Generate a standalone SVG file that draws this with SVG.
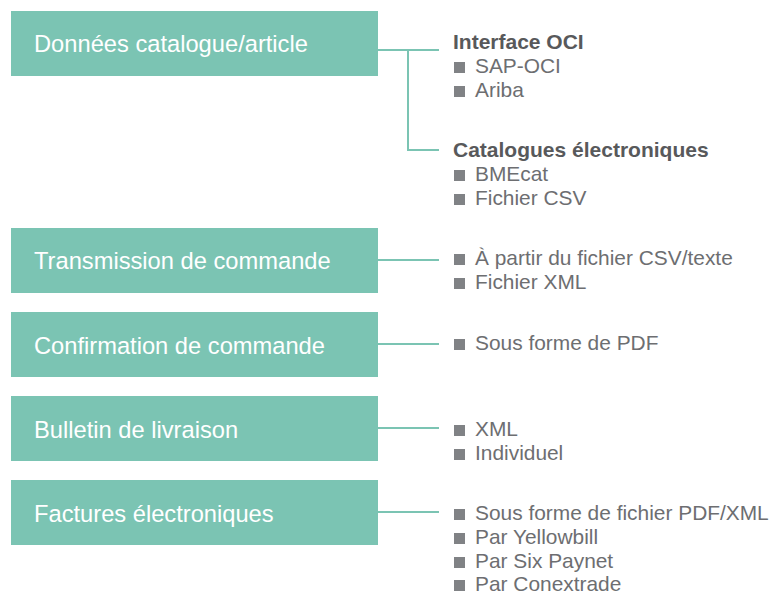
<svg xmlns="http://www.w3.org/2000/svg" width="771" height="593" viewBox="0 0 771 593">
<style>
.box{fill:#7bc4b3}
.bt{font-family:"Liberation Sans",Arial,sans-serif;font-size:23.7px;fill:#ffffff}
.it{font-family:"Liberation Sans",Arial,sans-serif;font-size:20.9px;fill:#6d6e71}
.hd{font-family:"Liberation Sans",Arial,sans-serif;font-size:21px;font-weight:bold;fill:#58595b}
.bl{fill:#808285}
.cn{stroke:#7bc4b3;stroke-width:2;fill:none}
</style>
<rect width="771" height="593" fill="#ffffff"/>
<g id="connectors">
<path class="cn" d="M378 50H439M408 50V150H439"/>
<path class="cn" d="M378 260H439"/>
<path class="cn" d="M378 344H439"/>
<path class="cn" d="M378 428H439"/>
<path class="cn" d="M378 512H439"/>
</g>
<g id="n1"><rect class="box" x="11" y="11" width="367" height="65"/><text class="bt" x="34" y="52">Données catalogue/article</text></g>
<g id="n2"><rect class="box" x="11" y="228" width="367" height="65"/><text class="bt" x="34" y="269">Transmission de commande</text></g>
<g id="n3"><rect class="box" x="11" y="312" width="367" height="65"/><text class="bt" x="34" y="354">Confirmation de commande</text></g>
<g id="n4"><rect class="box" x="11" y="396" width="367" height="65"/><text class="bt" x="34" y="438">Bulletin de livraison</text></g>
<g id="n5"><rect class="box" x="11" y="480" width="367" height="65"/><text class="bt" x="34" y="522">Factures électroniques</text></g>
<g id="l1">
<text class="hd" x="453" y="49">Interface OCI</text>
<rect class="bl" x="454" y="62" width="11" height="11"/><text class="it" x="475" y="73">SAP-OCI</text>
<rect class="bl" x="454" y="86" width="11" height="11"/><text class="it" x="475" y="97">Ariba</text>
<text class="hd" x="453" y="157">Catalogues électroniques</text>
<rect class="bl" x="454" y="170" width="11" height="11"/><text class="it" x="475" y="181">BMEcat</text>
<rect class="bl" x="454" y="194" width="11" height="11"/><text class="it" x="475" y="205">Fichier CSV</text>
</g>
<g id="l2">
<rect class="bl" x="454" y="254" width="11" height="11"/><text class="it" x="475" y="265">À partir du fichier CSV/texte</text>
<rect class="bl" x="454" y="278" width="11" height="11"/><text class="it" x="475" y="289">Fichier XML</text>
</g>
<g id="l3">
<rect class="bl" x="454" y="339" width="11" height="11"/><text class="it" x="475" y="350">Sous forme de PDF</text>
</g>
<g id="l4">
<rect class="bl" x="454" y="425" width="11" height="11"/><text class="it" x="475" y="436">XML</text>
<rect class="bl" x="454" y="449" width="11" height="11"/><text class="it" x="475" y="460">Individuel</text>
</g>
<g id="l5">
<rect class="bl" x="454" y="509" width="11" height="11"/><text class="it" x="475" y="520">Sous forme de fichier PDF/XML</text>
<rect class="bl" x="454" y="533" width="11" height="11"/><text class="it" x="475" y="544">Par Yellowbill</text>
<rect class="bl" x="454" y="557" width="11" height="11"/><text class="it" x="475" y="568">Par Six Paynet</text>
<rect class="bl" x="454" y="580" width="11" height="11"/><text class="it" x="475" y="591">Par Conextrade</text>
</g>
</svg>
